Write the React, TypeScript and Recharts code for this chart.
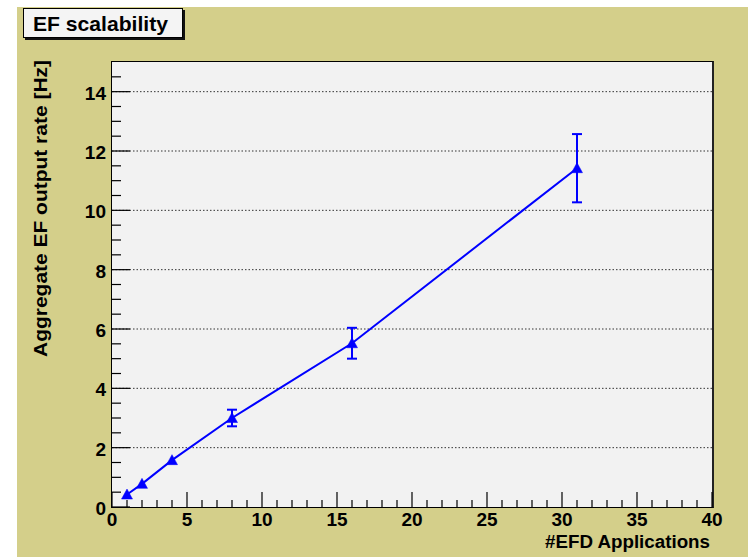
import React from 'react';
import { ComposedChart, Line, XAxis, YAxis, ErrorBar, ReferenceLine } from 'recharts';

const applications = [1, 2, 4, 8, 16, 31];
const outputRate = [0.42, 0.78, 1.58, 3.0, 5.52, 11.42];
const outputRateError = [0, 0, 0, 0.28, 0.52, 1.15];
const xMajorLabels = [0, 5, 10, 15, 20, 25, 30, 35, 40];
const yMajorLabels = [0, 2, 4, 6, 8, 10, 12, 14];
const gridLevels = [2, 4, 6, 8, 10, 12, 14];
const xTicks = Array.from({ length: 41 }, (_, i) => i);
const yTicks = Array.from({ length: 30 }, (_, i) => i * 0.5);

const data = applications.map((x, i) => ({ x, rate: outputRate[i], err: outputRateError[i] }));

const W = 748;
const H = 557;
const PLOT_LEFT = 112;
const PLOT_TOP = 62;
const PLOT_RIGHT = 712;
const PLOT_BOTTOM = 507;
const FONT = '"Liberation Sans", Arial, Helvetica, sans-serif';
const BLUE = '#0000ff';

const XTick = (props: any) => {
  const { x, payload } = props;
  const v = payload.value;
  const major = xMajorLabels.includes(v);
  const len = major ? 15 : 7;
  return (
    <g>
      <line x1={x} x2={x} y1={PLOT_BOTTOM} y2={PLOT_BOTTOM - len} stroke="#000" strokeWidth={1.2} />
      {major && (
        <text x={x} y={526} textAnchor="middle" fontFamily={FONT} fontWeight="bold" fontSize={19} fill="#000">
          {v}
        </text>
      )}
    </g>
  );
};

const YTick = (props: any) => {
  const { y, payload } = props;
  const v = payload.value;
  const major = yMajorLabels.includes(v);
  const len = major ? 18 : 9;
  return (
    <g>
      <line x1={PLOT_LEFT} x2={PLOT_LEFT + len} y1={y} y2={y} stroke="#000" strokeWidth={1.2} />
      {major && (
        <text x={106} y={y + 8} textAnchor="end" fontFamily={FONT} fontWeight="bold" fontSize={19} fill="#000">
          {v}
        </text>
      )}
    </g>
  );
};

const TriangleDot = (props: any) => {
  const { cx, cy } = props;
  if (cx == null || cy == null) return null;
  return <path d={`M${cx},${cy - 5.5} L${cx + 5.5},${cy + 4.5} L${cx - 5.5},${cy + 4.5} Z`} fill={BLUE} stroke={BLUE} strokeWidth={0.5} />;
};

export default function App() {
  return (
    <div style={{ position: 'fixed', left: 0, top: 0, width: W, height: H, background: '#ffffff', overflow: 'hidden' }}>
      <div style={{ position: 'absolute', left: 17, top: 7, width: W - 17, height: H - 7, background: '#d4cf8a' }} />
      <div
        style={{
          position: 'absolute',
          left: PLOT_LEFT - 1,
          top: PLOT_TOP - 1,
          width: PLOT_RIGHT - PLOT_LEFT + 3,
          height: PLOT_BOTTOM - PLOT_TOP + 2,
          boxSizing: 'border-box',
          background: '#f2f2f2',
          borderTop: '1px solid #000',
          borderLeft: '1.5px solid #000',
          borderBottom: '1.5px solid #000',
          borderRight: '2px solid #222',
        }}
      />
      <div
        style={{
          position: 'absolute',
          left: 23,
          top: 8,
          width: 160,
          height: 30,
          boxSizing: 'border-box',
          background: '#f4f4f4',
          border: '1px solid #000',
          boxShadow: '2px 2px 0 #111',
        }}
      />
      <div style={{ position: 'absolute', left: 0, top: 0 }}>
        <ComposedChart
          width={W}
          height={H}
          data={data}
          margin={{ top: PLOT_TOP, right: W - PLOT_RIGHT, bottom: 10, left: PLOT_LEFT - 60 }}
        >
          <XAxis
            dataKey="x"
            type="number"
            domain={[0, 40]}
            ticks={xTicks}
            interval={0}
            tick={<XTick />}
            tickLine={false}
            axisLine={false}
            height={H - PLOT_BOTTOM - 10}
            allowDataOverflow
          />
          <YAxis
            type="number"
            domain={[0, 15]}
            ticks={yTicks}
            interval={0}
            tick={<YTick />}
            tickLine={false}
            axisLine={false}
            width={60}
            allowDataOverflow
          />
          {gridLevels.map((g) => (
            <ReferenceLine key={g} y={g} stroke="#333" strokeWidth={1} strokeDasharray="1.5 2" ifOverflow="visible" />
          ))}
          <Line
            type="linear"
            dataKey="rate"
            stroke={BLUE}
            strokeWidth={2}
            dot={<TriangleDot />}
            activeDot={false}
            isAnimationActive={false}
          >
            <ErrorBar dataKey="err" direction="y" width={5} stroke={BLUE} strokeWidth={2} isAnimationActive={false} />
          </Line>
        </ComposedChart>
      </div>
      <svg width={W} height={H} style={{ position: 'absolute', left: 0, top: 0, pointerEvents: 'none' }}>
        <text
          x={33}
          y={31}
          fontFamily={FONT}
          fontWeight="bold"
          fontSize={20.5}
          textLength={135}
          lengthAdjust="spacingAndGlyphs"
          fill="#000"
        >
          EF scalability
        </text>
        <text
          x={0}
          y={0}
          transform="translate(47,208.5) rotate(-90)"
          textAnchor="middle"
          fontFamily={FONT}
          fontWeight="bold"
          fontSize={19}
          textLength={297}
          lengthAdjust="spacingAndGlyphs"
          fill="#000"
        >
          Aggregate EF output rate [Hz]
        </text>
        <text
          x={710}
          y={548}
          textAnchor="end"
          fontFamily={FONT}
          fontWeight="bold"
          fontSize={18}
          textLength={165}
          lengthAdjust="spacingAndGlyphs"
          fill="#000"
        >
          #EFD Applications
        </text>
      </svg>
    </div>
  );
}
